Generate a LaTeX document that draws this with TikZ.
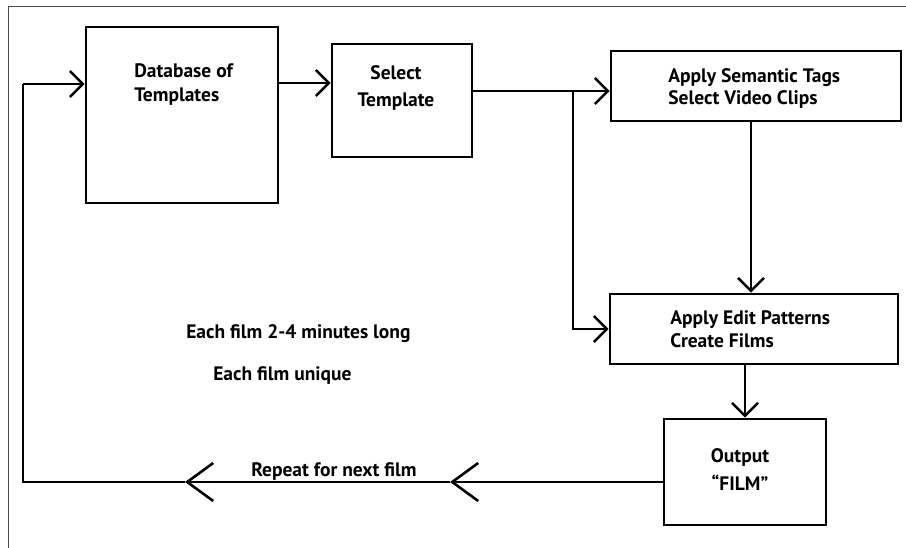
\documentclass[tikz,border=0pt]{standalone}
\usepackage{fontspec}
\setmainfont{PT Sans}
\usetikzlibrary{arrows.meta}

\begin{document}
\begin{tikzpicture}[x=1pt, y=-1pt, line width=2.6pt,
    box/.style={draw, rectangle, inner sep=0pt},
    barb/.style={-{Straight Barb[length=13pt, width=26pt]}},
    bigbarb/.style={-{Straight Barb[length=26pt, width=38pt]}},
    txt/.style={inner sep=0pt, font=\fontsize{19.5}{24}\selectfont\bfseries}]
  \useasboundingbox (0,0) rectangle (906,548);
  \draw[gray!60!black, line width=1pt] (906,7) -- (8,7) -- (8,548);

  \node[box, minimum width=192pt, minimum height=176pt] (db) at (182,115) {};
  \node[box, minimum width=140pt, minimum height=113pt] (sel) at (402,100.5) {};
  \node[box, minimum width=290pt, minimum height=70pt] (sem) at (756,86) {};
  \node[box, minimum width=288pt, minimum height=70pt] (edit) at (754,329) {};
  \node[box, minimum width=162pt, minimum height=106pt] (out) at (745,472) {};

  \node[txt, anchor=north west, align=left] (dbtext) at (133,62) {Database of\\Templates};
  \node[txt, anchor=north, align=center] (seltext) at (396,64) {Select\\[3pt]Template};
  \node[txt, anchor=north west, align=left] (semtext) at (667,67) {Apply Semantic Tags\\[-2pt]Select Video Clips};
  \node[txt, anchor=north west, align=left] (edittext) at (669,309) {Apply Edit Patterns\\[-1pt]Create Films};
  \node[txt, anchor=north, align=center] (outtext) at (740,447) {Output\\[4pt]“FILM”};
  \node[txt, anchor=north west] (note1) at (185,323) {Each film 2-4 minutes long};
  \node[txt, anchor=north west] (note2) at (212,365) {Each film unique};
  \node[txt, anchor=north west] (repeat) at (250,461) {Repeat for next film};

  \coordinate (top) at (23,84);
  \coordinate (back) at (23,482);
  \coordinate (fork) at (573,91);
  \coordinate (m1) at (450,482);
  \coordinate (m2) at (185,482);

  \draw[barb] (db.east |- 0,83) -- (sel.west |- 0,83);
  \draw[barb] (sel.east |- fork) -- (sem.west |- fork);
  \draw[barb] (fork) |- (edit.west);
  \draw[barb] (sem.south -| 751,0) -- (edit.north -| 751,0);
  \draw[barb] (edit.south -| out.north) -- (out.north);
  \draw[bigbarb] (out.west |- back) -- (m1);
  \draw[bigbarb] (m1) -- (m2);
  \draw (m2) -- (back) -- (top);
  \draw[barb] (top) -- (db.west |- top);
\end{tikzpicture}
\end{document}
